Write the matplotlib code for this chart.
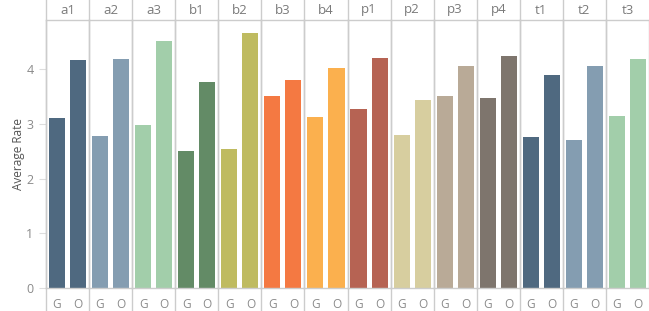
import matplotlib
matplotlib.use("Agg")
import matplotlib.pyplot as plt
from matplotlib.lines import Line2D

# facets and their G / O average rates
groups = ["a1", "a2", "a3", "b1", "b2", "b3", "b4",
          "p1", "p2", "p3", "p4", "t1", "t2", "t3"]
g_rate = [3.10, 2.78, 2.98, 2.50, 2.54, 3.51, 3.12,
          3.27, 2.79, 3.51, 3.47, 2.76, 2.70, 3.14]
o_rate = [4.16, 4.18, 4.51, 3.76, 4.66, 3.80, 4.02,
          4.20, 3.43, 4.05, 4.24, 3.89, 4.05, 4.18]
labels = ["G", "O"]
colors = ["#4F6980", "#849DB1", "#A2CEAA", "#638B66", "#BFBB60", "#F47942", "#FBB04E",
          "#B66353", "#D7CE9F", "#B9AA97", "#7E756D", "#4F6980", "#849DB1", "#A2CEAA"]

plt.rcParams["font.family"] = ["Open Sans", "DejaVu Sans"]
line_c = "#cccccc"
txt_c = "#8a8a8a"

fig = plt.figure(figsize=(6.49, 3.11), dpi=100)
left, right = 46 / 649, 1.0
bottom, top = (311 - 288) / 311, (311 - 20) / 311
n = len(groups)
w = (right - left) / n
below = (288 - 311) / 268  # axes-fraction down to image bottom
above = 1 + 20 / 268       # axes-fraction up to image top

for i, grp in enumerate(groups):
    ax = fig.add_axes([left + i * w, bottom, w, top - bottom])
    ax.bar([0, 1], [g_rate[i], o_rate[i]], width=0.76, color=colors[i])
    ax.set_xlim(-0.52, 1.52)
    ax.set_ylim(0, 4.895)
    ax.set_xticks([0, 1])
    ax.set_xticklabels(labels)
    ax.tick_params(axis="x", length=0, colors=txt_c, labelsize=8.5, pad=7)
    for s in ["left", "top", "bottom", "right"]:
        ax.spines[s].set_color(line_c)
        ax.spines[s].set_linewidth(1)
    ax.spines["right"].set_visible(i == n - 1)
    # vertical separator through header and footer
    ax.add_line(Line2D([0, 0], [below, above], transform=ax.transAxes,
                       color=line_c, lw=1, clip_on=False))
    ax.text(0.5, 1 + 10 / 268, grp, transform=ax.transAxes, ha="center",
            va="center", color="#7a7a7a", fontsize=9.5)
    if i == 0:
        ax.set_yticks([0, 1, 2, 3, 4])
        ax.tick_params(axis="y", length=5, color="#dddddd", colors=txt_c,
                       labelsize=9, pad=4)
        ax.set_ylabel("Average Rate", color="#555555", fontsize=8.5, labelpad=1)
    else:
        ax.set_yticks([])

fig.savefig("out.png", dpi=100)
